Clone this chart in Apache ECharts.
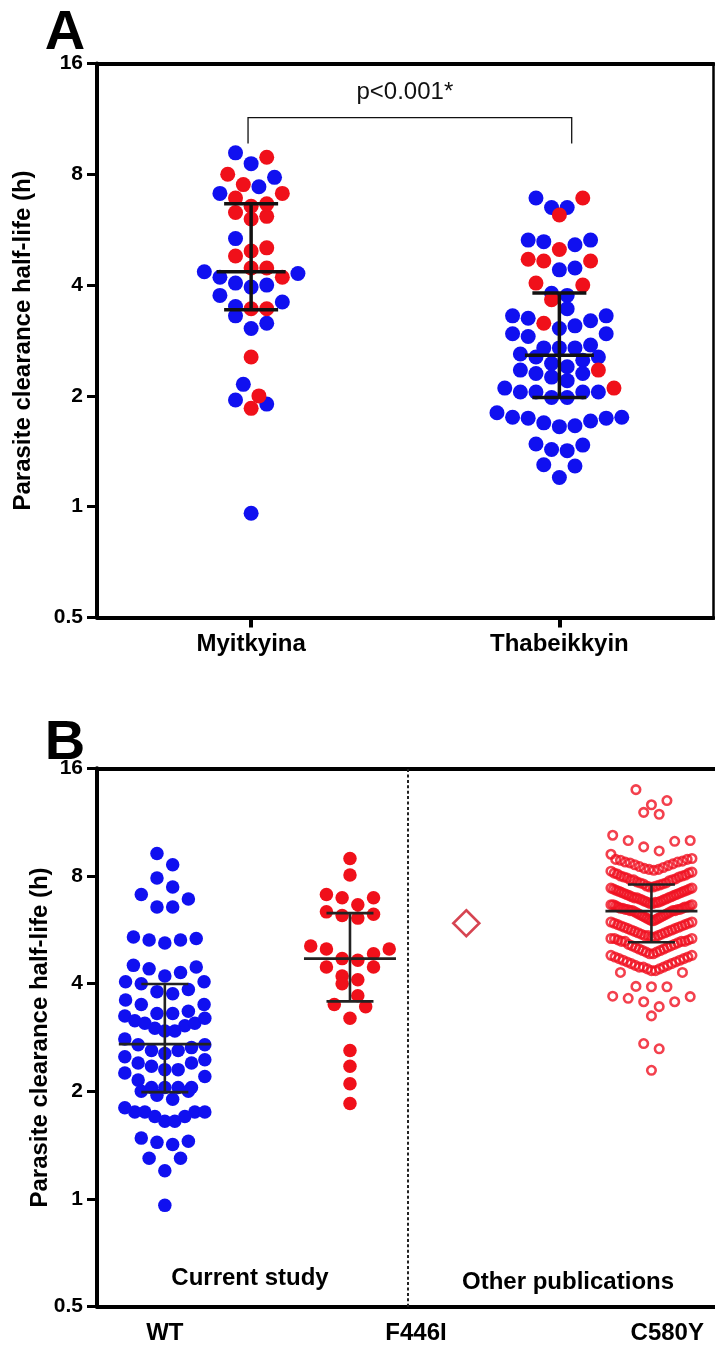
<!DOCTYPE html>
<html>
<head>
<meta charset="utf-8">
<script src="https://cdn.jsdelivr.net/npm/echarts@6/dist/echarts.min.js"></script>
<style>
  html, body { margin: 0; padding: 0; background: #fff; }
  #chart { width: 715px; height: 1349px; }
</style>
</head>
<body>
<div id="chart"></div>
<script>
// ---------- Panel A: clearance half-life by site ----------
const groupsA = ['Myitkyina', 'Thabeikkyin'];
const myitkyinaRed = [8.9, 8.0, 7.5, 6.9, 7.1, 6.55, 6.15, 6.05, 6.3, 6.65, 4.95, 5.05, 4.8,
  4.45, 4.45, 4.2, 3.45, 3.45, 2.55, 2.0, 1.85];
const myitkyinaBlue = [9.15, 8.55, 7.85, 7.4, 7.1, 5.35, 4.35, 4.2, 4.3, 4.05, 3.95, 4.0, 3.75,
  3.6, 3.5, 3.3, 3.05, 3.15, 2.15, 1.9, 1.95, 0.96];
const thabeikkyinRed = [6.9, 6.2, 5.0, 4.7, 4.65, 4.65, 4.05, 4.0, 3.65, 3.15, 2.35, 2.1];
const thabeikkyinBlue = [6.9, 6.5, 6.5, 5.3, 5.15, 5.25, 5.3, 4.4, 4.45, 3.75, 3.8, 3.45, 3.3,
  3.25, 3.2, 3.3, 3.05, 2.95, 3.1, 2.9, 2.95, 2.75, 2.7, 2.6, 2.55, 2.5, 2.55, 2.7, 2.7, 2.4,
  2.3, 2.2, 2.25, 2.3, 2.35, 2.45, 2.1, 2.05, 2.05, 1.98, 1.98, 2.05, 2.05, 1.8, 1.75, 1.74,
  1.69, 1.65, 1.66, 1.71, 1.74, 1.75, 1.48, 1.43, 1.42, 1.47, 1.3, 1.29, 1.2];
// [Q1, median, Q3]
const myitkyinaSummary = [3.43, 4.35, 6.65];
const thabeikkyinSummary = [1.98, 2.58, 3.81];
const pValueText = 'p<0.001*';

// ---------- Panel B: clearance half-life by kelch13 genotype ----------
const groupsB = ['WT', 'F446I', 'C580Y'];
const sectionLabels = ['Current study', 'Other publications'];
const wtValues = [9.25, 8.6, 7.9, 7.45, 7.1, 6.9, 6.55, 6.55, 5.4, 5.3, 5.2, 5.3, 5.35, 4.45,
  4.3, 4.2, 4.4, 4.5, 4.05, 3.85, 3.75, 3.8, 4.0, 4.05, 3.5, 3.5, 3.6, 3.25, 3.15, 3.35, 3.3,
  3.1, 3.0, 3.05, 3.1, 3.2, 3.3, 2.95, 2.8, 2.95, 2.6, 2.55, 2.7, 2.65, 2.7, 2.6, 2.5, 2.45,
  2.4, 2.4, 2.35, 2.3, 2.3, 2.2, 2.15, 2.25, 2.05, 2.05, 2.0, 1.9, 1.95, 2.0, 2.05, 2.05, 1.75,
  1.75, 1.7, 1.65, 1.65, 1.7, 1.75, 1.75, 1.8, 1.45, 1.42, 1.44, 1.48, 1.3, 1.3, 1.2, 0.96];
const f446iValues = [8.95, 8.05, 7.1, 6.95, 6.95, 6.65, 6.35, 6.2, 6.1, 6.25, 5.1, 5.0, 5.0,
  4.85, 4.65, 4.7, 4.45, 4.45, 4.2, 4.1, 4.0, 3.7, 3.45, 3.5, 3.2, 2.6, 2.35, 2.1, 1.85];
const c580yValues = [
  13.95, 13.0, 12.65, 12.05, 11.9, 10.4, 10.05, 10.05, 10.0, 9.65, 9.4, 9.2,
  8.95, 8.9, 8.9, 8.85, 8.8, 8.75, 8.75, 8.7, 8.65, 8.6, 8.55, 8.5, 8.45, 8.4, 8.35, 8.35,
  8.3, 8.25, 8.2, 8.15, 8.15, 8.1, 8.05, 8.0, 8.0, 7.95, 7.95, 7.9, 7.85, 7.8, 7.8, 7.8,
  7.75, 7.7, 7.65, 7.65, 7.6, 7.6,
  7.55, 7.5, 7.5, 7.45, 7.45, 7.4, 7.4, 7.35, 7.35, 7.3, 7.3, 7.25, 7.25, 7.2, 7.2, 7.15,
  7.15, 7.1, 7.1, 7.05, 7.05, 7.0, 7.0, 6.95, 6.95, 6.95, 6.9, 6.9, 6.85, 6.85, 6.8, 6.8,
  6.75, 6.75, 6.75, 6.7, 6.7, 6.65, 6.65, 6.65, 6.6, 6.6, 6.55, 6.55, 6.55, 6.5, 6.5, 6.5,
  6.45, 6.45, 6.45, 6.45, 6.4, 6.4, 6.4, 6.4,
  6.35, 6.35, 6.3, 6.3, 6.25, 6.25, 6.2, 6.2, 6.15, 6.15, 6.1, 6.1, 6.05, 6.05, 6.0, 6.0,
  5.95, 5.95, 5.9, 5.9, 5.85, 5.85, 5.8, 5.8, 5.75, 5.75, 5.7, 5.7, 5.65, 5.65, 5.6, 5.6,
  5.55, 5.55, 5.5, 5.5, 5.45, 5.45, 5.45, 5.4, 5.4, 5.35, 5.35, 5.35, 5.3, 5.3, 5.25, 5.25,
  5.25, 5.25,
  5.2, 5.15, 5.15, 5.1, 5.1, 5.05, 5.05, 5.0, 5.0, 4.95, 4.95, 4.9, 4.9, 4.85, 4.85, 4.8,
  4.8, 4.75, 4.75, 4.7, 4.7, 4.65, 4.65, 4.6, 4.6, 4.55, 4.55, 4.5, 4.5, 4.45, 4.45, 4.45,
  4.4, 4.4, 4.35, 4.35, 4.3, 4.3,
  3.93, 3.92, 3.92, 3.69, 3.68, 3.64, 3.56, 3.56, 3.45, 3.25, 2.72, 2.63, 2.29];
const c580yPublished = 5.9;
const wtSummary = [1.99, 2.71, 3.99];
const f446iSummary = [3.57, 4.70, 6.30];
const c580ySummary = [5.22, 6.38, 7.57];

// ---------- layout ----------
const FONT = '"Liberation Sans", Arial, Helvetica, sans-serif';
const BLUE = '#1010f0';
const RED = '#f0101a';
const posA = [0.5, 1.5];                 // column centres, panel A x-units
const posB = { wt: 1, f446i: 1.737, published: 2.2, c580y: 2.937, divider: 1.968 };
const labelPosB = [1, 2, 3];
const sectionPosB = [[1.339, 0.6], [2.605, 0.583]];
const bracketA = { x1: 0.49, x2: 1.54, top: 11.41, foot: 9.7 };

const chart = echarts.init(document.getElementById('chart'), null, { renderer: 'canvas' });

const axisLineStyle = (w) => ({ show: true, onZero: false, lineStyle: { color: '#000', width: w } });
const yAxisBase = (grid, gap) => ({
  gridIndex: grid, type: 'log', logBase: 2, min: 0.5, max: 16,
  axisLine: axisLineStyle(4),
  axisTick: { show: true, inside: false, length: 10, lineStyle: { color: '#000', width: 3 } },
  axisLabel: {
    color: '#000', fontFamily: FONT, fontWeight: 'bold', fontSize: 21, margin: 14,
    formatter: (v) => String(+(+v).toPrecision(4))
  },
  splitLine: { show: false },
  name: 'Parasite clearance half-life (h)', nameLocation: 'middle', nameRotate: 90, nameGap: gap,
  nameMoveOverlap: false,
  nameTextStyle: { color: '#000', fontFamily: FONT, fontWeight: 'bold', fontSize: 24 }
});
const frameAxis = (grid, w, pos) => ({
  gridIndex: grid, type: 'value', min: 0, max: 1, position: pos,
  axisLine: axisLineStyle(w), axisTick: { show: false }, axisLabel: { show: false },
  splitLine: { show: false }
});

const baseOption = {
  animation: false,
  backgroundColor: '#fff',
  grid: [
    { left: 97, top: 63.5, right: 1.5, height: 554 },
    { left: 97, top: 768.3, right: 0, height: 538.4 }
  ],
  xAxis: [
    {
      gridIndex: 0, type: 'value', min: 0, max: 2, position: 'bottom',
      axisLine: axisLineStyle(4),
      axisTick: { show: true, customValues: posA, length: 10, lineStyle: { color: '#000', width: 4 } },
      axisLabel: {
        customValues: posA, color: '#000', fontFamily: FONT, fontWeight: 'bold', fontSize: 24, margin: 15,
        formatter: (v) => groupsA[posA.indexOf(v)] || ''
      },
      splitLine: { show: false }
    },
    frameAxis(0, 4, 'top'),
    {
      gridIndex: 1, type: 'value', min: 0.73, max: 3.19, position: 'bottom',
      axisLine: axisLineStyle(4),
      axisTick: { show: false },
      axisLabel: {
        customValues: labelPosB, color: '#000', fontFamily: FONT, fontWeight: 'bold', fontSize: 24, margin: 15,
        formatter: (v) => groupsB[labelPosB.indexOf(v)] || ''
      },
      splitLine: { show: false }
    },
    frameAxis(1, 4, 'top')
  ],
  yAxis: [
    yAxisBase(0, 62),
    {
      gridIndex: 0, type: 'log', logBase: 2, min: 0.5, max: 16, position: 'right',
      axisLine: axisLineStyle(2.5), axisTick: { show: false }, axisLabel: { show: false },
      splitLine: { show: false }
    },
    yAxisBase(1, 45)
  ],
  graphic: [
    { type: 'text', x: 65, y: 34, z: 100,
      style: { text: 'A', font: 'bold 56px ' + FONT, fill: '#000', align: 'center', verticalAlign: 'middle' } },
    { type: 'text', x: 65, y: 744, z: 100,
      style: { text: 'B', font: 'bold 56px ' + FONT, fill: '#000', align: 'center', verticalAlign: 'middle' } }
  ],
  series: []
};
chart.setOption(baseOption);

// ---------- scatter-dot layout ----------
// Points are grouped into horizontal rows: walking down the column, a new row
// starts once a point lies more than h pixels below the row's first point.
// Inside a row the lowest value sits in the middle and the rest alternate
// right / left outward; rows wider than maxHalf are squeezed.
function rowOffsets(values, yAxisIndex, h, spacing, maxHalf) {
  const items = values.map((v, i) => ({ v, i, py: chart.convertToPixel({ yAxisIndex }, v) }));
  items.sort((a, b) => a.py - b.py);
  const rows = [];
  let cur = null;
  items.forEach((it) => {
    if (!cur || it.py - cur.start >= h) { cur = { start: it.py, pts: [] }; rows.push(cur); }
    cur.pts.push(it);
  });
  const dx = new Array(values.length).fill(0);
  rows.forEach(({ pts }) => {
    pts.sort((a, b) => a.v - b.v);
    const n = pts.length;
    const sp = n > 1 ? Math.min(spacing, (2 * maxHalf) / (n - 1)) : spacing;
    pts.forEach((it, j) => {
      let slot;
      if (n % 2) slot = j === 0 ? 0 : (j % 2 ? 1 : -1) * Math.ceil(j / 2);
      else slot = (j % 2 ? -1 : 1) * (Math.floor(j / 2) + 0.5);
      dx[it.i] = slot * sp;
    });
  });
  return dx;
}

function pxPerUnit(xAxisIndex) {
  return chart.convertToPixel({ xAxisIndex }, 1) - chart.convertToPixel({ xAxisIndex }, 0);
}

// Lay out one column built from coloured subsets, returning [x, value] pairs per subset.
function column(subsets, centre, xAxisIndex, yAxisIndex, layout) {
  const all = [];
  subsets.forEach((s, k) => s.forEach((v) => all.push({ v, k })));
  const dx = rowOffsets(all.map((a) => a.v), yAxisIndex, layout.h, layout.spacing, layout.maxHalf);
  const unit = pxPerUnit(xAxisIndex);
  const out = subsets.map(() => []);
  all.forEach((a, i) => out[a.k].push([centre + dx[i] / unit, a.v]));
  return out;
}

const layoutA = { h: 15.5, spacing: 15.6, maxHalf: 100 };
const layoutB = { h: 15.5, spacing: 15.7, maxHalf: 40 };
const layoutC = { h: 16, spacing: 15.5, maxHalf: 40.5 };

const [mRed, mBlue] = column([myitkyinaRed, myitkyinaBlue], posA[0], 0, 0, layoutA);
const [tRed, tBlue] = column([thabeikkyinRed, thabeikkyinBlue], posA[1], 0, 0, layoutA);
const [wt] = column([wtValues], posB.wt, 2, 2, layoutB);
const [f446i] = column([f446iValues], posB.f446i, 2, 2, layoutB);
const [c580y] = column([c580yValues], posB.c580y, 2, 2, layoutC);

const dots = (data, color, size, xi, yi) => ({
  type: 'scatter', xAxisIndex: xi, yAxisIndex: yi, data, symbol: 'circle', symbolSize: size,
  itemStyle: { color, opacity: 1 }, z: 3, silent: true
});

function errorBars(data, xi, yi, halfMed, halfCap, width, color) {
  return {
    type: 'custom', xAxisIndex: xi, yAxisIndex: yi, data, z: 10, silent: true,
    renderItem(params, api) {
      const x = api.value(0);
      const lo = api.coord([x, api.value(1)]);
      const md = api.coord([x, api.value(2)]);
      const hi = api.coord([x, api.value(3)]);
      const style = { stroke: color, lineWidth: width };
      const seg = (x1, y1, x2, y2) => ({ type: 'line', shape: { x1, y1, x2, y2 }, style });
      return {
        type: 'group', children: [
          seg(lo[0], lo[1], hi[0], hi[1]),
          seg(lo[0] - halfCap, lo[1], lo[0] + halfCap, lo[1]),
          seg(hi[0] - halfCap, hi[1], hi[0] + halfCap, hi[1]),
          seg(md[0] - halfMed, md[1], md[0] + halfMed, md[1])
        ]
      };
    }
  };
}

const series = [
  dots(mBlue, BLUE, 15, 0, 0), dots(mRed, RED, 15, 0, 0),
  dots(tBlue, BLUE, 15, 0, 0), dots(tRed, RED, 15, 0, 0),
  errorBars([[posA[0], ...myitkyinaSummary], [posA[1], ...thabeikkyinSummary]], 0, 0, 34.5, 27, 3.5, '#111'),
  // significance bracket
  {
    type: 'custom', xAxisIndex: 0, yAxisIndex: 0, silent: true, z: 10,
    data: [[bracketA.x1, bracketA.x2, bracketA.top, bracketA.foot]],
    renderItem(params, api) {
      const a = api.coord([api.value(0), api.value(3)]);
      const b = api.coord([api.value(0), api.value(2)]);
      const c = api.coord([api.value(1), api.value(2)]);
      const e = api.coord([api.value(1), api.value(3)]);
      return {
        type: 'group', children: [
          { type: 'polyline', shape: { points: [a, b, c, e] }, style: { stroke: '#111', lineWidth: 1.3, fill: null } },
          { type: 'text', x: (b[0] + c[0]) / 2 - 5, y: b[1] - 25,
            style: { text: pValueText, font: '24px ' + FONT, fill: '#111', align: 'center', verticalAlign: 'middle' } }
        ]
      };
    }
  },
  dots(wt, BLUE, 13.5, 2, 2),
  dots(f446i, RED, 13.5, 2, 2),
  {
    type: 'scatter', xAxisIndex: 2, yAxisIndex: 2, data: c580y, symbol: 'circle', symbolSize: 8.5,
    itemStyle: { color: 'transparent', borderColor: '#f01020', borderWidth: 2.6 }, z: 3, silent: true
  },
  {
    type: 'scatter', xAxisIndex: 2, yAxisIndex: 2, data: [[posB.published, c580yPublished]],
    symbol: 'diamond', symbolSize: [26, 26],
    itemStyle: { color: '#fff', borderColor: '#cc1525', borderWidth: 2.6 }, z: 4, silent: true
  },
  errorBars([[posB.wt, ...wtSummary], [posB.f446i, ...f446iSummary], [posB.c580y, ...c580ySummary]],
    2, 2, 46, 23.5, 2.6, '#222'),
  // divider between own data and published data, plus section captions
  {
    type: 'custom', xAxisIndex: 2, yAxisIndex: 2, silent: true, z: 2,
    data: [[posB.divider, 0.5, 16]],
    renderItem(params, api) {
      const p1 = api.coord([api.value(0), api.value(1)]);
      const p2 = api.coord([api.value(0), api.value(2)]);
      const kids = [{ type: 'line', shape: { x1: p1[0], y1: p1[1], x2: p2[0], y2: p2[1] },
        style: { stroke: '#222', lineWidth: 2, lineDash: [3, 2.4] } }];
      sectionPosB.forEach((sp, i) => {
        const q = api.coord(sp);
        kids.push({ type: 'text', x: q[0], y: q[1],
          style: { text: sectionLabels[i], font: 'bold 24px ' + FONT, fill: '#000', align: 'center', verticalAlign: 'middle' } });
      });
      return { type: 'group', children: kids };
    }
  }
];

chart.setOption({ series });
</script>
</body>
</html>
